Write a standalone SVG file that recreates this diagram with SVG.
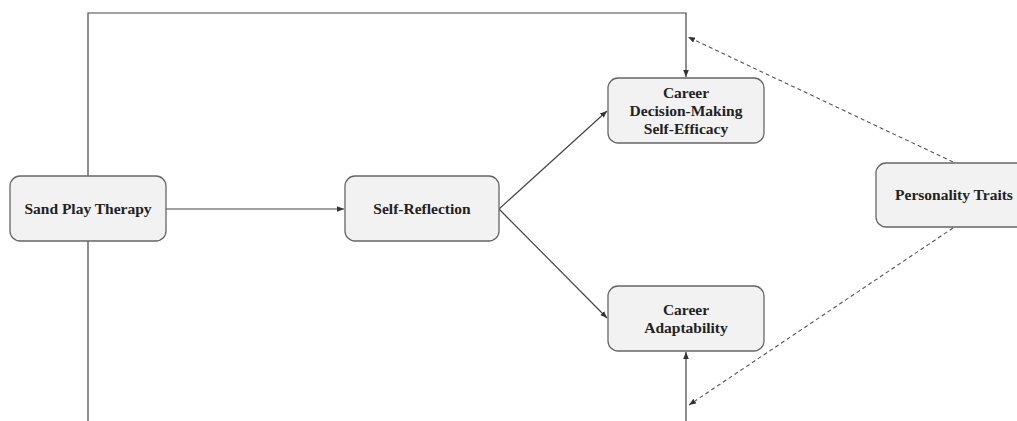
<svg xmlns="http://www.w3.org/2000/svg" width="1017" height="421" viewBox="0 0 1017 421">
<style>
.box{fill:#f2f2f2;stroke:#666;stroke-width:1.3}
.t{font-family:"Liberation Serif",serif;font-weight:bold;font-size:15.5px;fill:#222;text-anchor:middle}
.c{fill:none;stroke:#444;stroke-width:1.2}
.d{fill:none;stroke:#555;stroke-width:1.1;stroke-dasharray:4 3}
</style>
<defs>
<marker id="a" viewBox="0 0 10 10" refX="10" refY="5" markerWidth="7" markerHeight="7" orient="auto" markerUnits="userSpaceOnUse">
<path d="M0,1 L10,5 L0,9 Z" fill="#333"/>
</marker>
</defs>
<g id="connectors">
<path class="c" d="M88,176 V13 H686 V77" marker-end="url(#a)"/>
<path class="c" d="M88,241 V421"/>
<path class="c" d="M686,421 V352" marker-end="url(#a)"/>
<path class="c" d="M166,209 H344" marker-end="url(#a)"/>
<path class="c" d="M499,209 L607,111" marker-end="url(#a)"/>
<path class="c" d="M499,209 L607,318" marker-end="url(#a)"/>
<path class="d" d="M953,162 L688,37" marker-end="url(#a)"/>
<path class="d" d="M953,228 L689,405" marker-end="url(#a)"/>
</g>
<g id="sand-play-therapy">
<rect class="box" x="10" y="176" width="156" height="65" rx="10"/>
<text class="t" x="88" y="214">Sand Play Therapy</text>
</g>
<g id="self-reflection">
<rect class="box" x="345" y="176" width="154" height="65" rx="10"/>
<text class="t" x="422" y="214">Self-Reflection</text>
</g>
<g id="career-decision-making-self-efficacy">
<rect class="box" x="608" y="78" width="156" height="65" rx="10"/>
<text class="t" x="686" y="98">Career</text>
<text class="t" x="686" y="116">Decision-Making</text>
<text class="t" x="686" y="134">Self-Efficacy</text>
</g>
<g id="career-adaptability">
<rect class="box" x="608" y="286" width="156" height="65" rx="10"/>
<text class="t" x="686" y="315">Career</text>
<text class="t" x="686" y="333">Adaptability</text>
</g>
<g id="personality-traits">
<rect class="box" x="876" y="163" width="156" height="64" rx="10"/>
<text class="t" x="954" y="200">Personality Traits</text>
</g>
</svg>
